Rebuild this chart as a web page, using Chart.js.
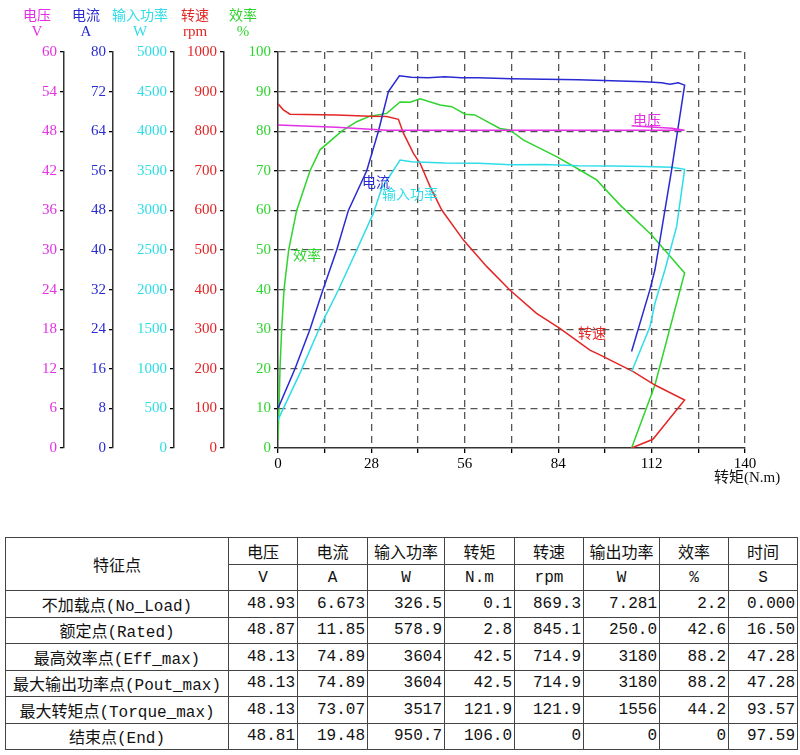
<!DOCTYPE html>
<html>
<head>
<meta charset="utf-8">
<script src="https://cdn.jsdelivr.net/npm/chart.js@4.4.1/dist/chart.umd.min.js"></script>
<style>
  body { margin: 0; background: #fff; }
  #wrap { position: relative; width: 800px; height: 755px; }
  #chart { position: absolute; left: 0; top: 0; }
  #tbl {
    position: absolute; left: 5px; top: 537px;
    border-collapse: collapse; table-layout: fixed;
    font: 16px "Liberation Mono", "Noto Sans CJK SC", monospace;
    color: #111;
  }
  #tbl td { border: 1.5px solid #444; padding: 0 2px; white-space: nowrap; overflow: hidden; }
  #tbl .c { text-align: center; }
  #tbl .r { text-align: right; }
</style>
</head>
<body>
<div id="wrap">
  <canvas id="chart" width="800" height="500"></canvas>
  <table id="tbl"></table>
</div>
<script>
// curves (x = torque N.m)
const torqueVoltage = [0, 7.6, 17.6, 27.6, 32.6, 40, 60, 80, 100, 121.9, 118, 106];
const voltage = [48.93, 48.8, 48.6, 48.3, 48.15, 48.13, 48.13, 48.13, 48.13, 48.13, 48.43, 48.81];

const torqueCurrent = [0, 5.1, 9.6, 13.5, 17.6, 21.1, 26.6, 30.1, 33.1, 36.4, 40, 45, 50, 55, 60, 70, 80, 90, 100, 110, 115, 117.5, 120, 121.9, 118, 114.5, 113, 111.5, 106];
const current = [8, 16, 24, 32, 40, 48, 56, 64, 72, 75.2, 74.9, 74.8, 75.0, 74.8, 74.8, 74.6, 74.5, 74.4, 74.2, 74.0, 73.8, 73.5, 73.8, 73.3, 56.2, 42, 36, 32, 19.48];

const torquePower = [0, 6.6, 12.6, 18.1, 23.6, 28.6, 31.1, 36.6, 40, 50, 60, 70, 80, 90, 100, 110, 118, 121.9, 119.5, 116, 113, 111.5, 106];
const inputPower = [355, 945, 1530, 1995, 2500, 2965, 3280, 3636, 3615, 3600, 3595, 3575, 3580, 3565, 3560, 3555, 3545, 3518, 2795, 2250, 1827, 1532, 963];

const torqueSpeed = [0, 1.6, 3.6, 17.6, 27.6, 32.6, 36.1, 37.6, 40.6, 42.6, 45.6, 49.1, 55.6, 62.6, 69.5, 77.5, 84.5, 93.5, 96.5, 106.5, 113, 121.9, 112.4, 106];
const speed = [869, 854, 843, 841, 838, 837, 830, 795, 744, 719, 660, 601, 525, 458, 399, 340, 302, 247, 235, 193, 159, 121, 22, 0];

const torqueEff = [0, 0.3, 0.6, 1.1, 1.8, 3.2, 5.6, 9.6, 12.6, 19.1, 23.6, 27.6, 32.6, 36.6, 39.6, 42.6, 48.6, 52.1, 56.1, 59, 66.5, 69.5, 73.5, 83.5, 90.5, 95.5, 102.5, 112, 121.9, 113, 106];
const efficiency = [2.2, 10, 20, 30, 40, 50, 60, 70, 75.3, 80, 82.4, 83.8, 84.5, 87.4, 87.3, 88.2, 86.6, 86.2, 84.3, 84.1, 80.7, 80.3, 77.8, 73.6, 70.2, 67.7, 61.4, 53.8, 44.2, 15.9, 0];

// axes
const axisIds = ['yV', 'yA', 'yW', 'yR', 'yE'];
const axisNames = ['电压', '电流', '输入功率', '转速', '效率'];
const axisUnits = ['V', 'A', 'W', 'rpm', '%'];
const axisMax = [60, 80, 5000, 1000, 100];
const axisStep = [6, 8, 500, 100, 10];
const axisColors = ['#e530e5', '#2a2ad2', '#2fdde8', '#e32626', '#2fd42f'];
const axisWidths = [64, 49, 61, 50, 54];
const titleX = [37, 86, 140, 195, 243];

// table
const pointNames = ['不加载点(No_Load)', '额定点(Rated)', '最高效率点(Eff_max)', '最大输出功率点(Pout_max)', '最大转矩点(Torque_max)', '结束点(End)'];
const colNames = ['电压', '电流', '输入功率', '转矩', '转速', '输出功率', '效率', '时间'];
const colUnits = ['V', 'A', 'W', 'N.m', 'rpm', 'W', '%', 'S'];
const colVoltage = ['48.93', '48.87', '48.13', '48.13', '48.13', '48.81'];
const colCurrent = ['6.673', '11.85', '74.89', '74.89', '73.07', '19.48'];
const colInput = ['326.5', '578.9', '3604', '3604', '3517', '950.7'];
const colTorque = ['0.1', '2.8', '42.5', '42.5', '121.9', '106.0'];
const colSpeed = ['869.3', '845.1', '714.9', '714.9', '121.9', '0'];
const colOutput = ['7.281', '250.0', '3180', '3180', '1556', '0'];
const colEff = ['2.2', '42.6', '88.2', '88.2', '44.2', '0'];
const colTime = ['0.000', '16.50', '47.28', '47.28', '93.57', '97.59'];
const colWidths = [223, 69, 70, 77, 70, 69, 76, 69, 69];

function pts(xs, ys) {
    return xs.map((x, i) => ({ x: x, y: ys[i] }));
}

const seriesData = [
    pts(torqueVoltage, voltage),
    pts(torqueCurrent, current),
    pts(torquePower, inputPower),
    pts(torqueSpeed, speed),
    pts(torqueEff, efficiency)
];

// labels written next to curves
const curveLabels = [
    { text: '电压', axis: 'yV', t: 110.6, v: 49.7, color: axisColors[0] },
    { text: '电流', axis: 'yA', t: 29.4, v: 53.7, color: axisColors[1] },
    { text: '输入功率', axis: 'yW', t: 39.6, v: 3207, color: axisColors[2] },
    { text: '转速', axis: 'yR', t: 94.1, v: 290, color: axisColors[3] },
    { text: '效率', axis: 'yE', t: 8.7, v: 48.7, color: axisColors[4] }
];

const serif = '"Liberation Serif", "Times New Roman", serif';
const gridColor = ctx => (ctx.tick && ctx.tick.value === 0) ? 'rgba(0,0,0,0)' : '#555';

const scales = {
    x: {
        type: 'linear', min: 0, max: 140,
        afterFit: s => { s.height = 30; },
        ticks: {
            stepSize: 14, autoSkip: false, maxRotation: 0, padding: 2,
            color: '#000', font: { family: serif, size: 15 },
            callback: v => (v % 28 === 0 ? String(v) : '')
        },
        grid: { color: gridColor, lineWidth: 1.3, tickLength: 5, tickColor: '#000', tickWidth: 1.3 },
        border: { display: true, color: '#333', width: 1.5, dash: [7, 5] }
    }
};
axisIds.forEach((id, i) => {
    const inner = i === axisIds.length - 1;
    scales[id] = {
        type: 'linear', position: 'left', weight: axisIds.length - i,
        min: 0, max: axisMax[i],
        afterFit: s => { s.width = axisWidths[i]; },
        ticks: {
            stepSize: axisStep[i], autoSkip: false, padding: 3,
            color: axisColors[i], font: { family: serif, size: 15 },
            callback: v => String(v)
        },
        grid: {
            display: true, drawOnChartArea: inner, color: inner ? gridColor : '#000',
            lineWidth: 1.3, tickLength: 4, tickColor: '#000', tickWidth: 1.3
        },
        border: { display: true, color: '#333', width: 1.5, dash: inner ? [7, 5] : [] }
    };
});

const textPlugin = {
    id: 'texts',
    afterDraw(chart) {
        const ctx = chart.ctx;
        ctx.save();
        ctx.textAlign = 'center';
        ctx.textBaseline = 'middle';
        axisIds.forEach((id, i) => {
            ctx.fillStyle = axisColors[i];
            ctx.font = '14px "Noto Sans CJK SC"';
            ctx.fillText(axisNames[i], titleX[i], 15);
            ctx.font = '15px ' + serif;
            ctx.fillText(axisUnits[i], titleX[i], 32);
        });
        ctx.font = '14px "Noto Sans CJK SC"';
        curveLabels.forEach(l => {
            ctx.fillStyle = l.color;
            ctx.fillText(l.text, chart.scales.x.getPixelForValue(l.t), chart.scales[l.axis].getPixelForValue(l.v));
        });
        ctx.fillStyle = '#111';
        ctx.font = '15px "Liberation Serif", "Noto Sans CJK SC"';
        ctx.fillText('转矩(N.m)', 747, 478);
        ctx.restore();
    }
};

new Chart(document.getElementById('chart').getContext('2d'), {
    type: 'line',
    data: {
        datasets: seriesData.map((d, i) => ({
            label: axisNames[i],
            data: d,
            yAxisID: axisIds[i],
            borderColor: axisColors[i],
            borderWidth: 1.5,
            pointRadius: 0,
            tension: 0,
            fill: false
        }))
    },
    options: {
        responsive: false,
        animation: false,
        devicePixelRatio: 1,
        layout: { padding: { left: 0, top: 52, right: 55, bottom: 22 } },
        plugins: { legend: { display: false }, tooltip: { enabled: false } },
        scales: scales
    },
    plugins: [textPlugin]
});

// table below the chart
const tbl = document.getElementById('tbl');
let html = '<colgroup>' + colWidths.map(w => '<col style="width:' + w + 'px">').join('') + '</colgroup>';
html += '<tr style="height:27px"><td class="c" rowspan="2">特征点</td>' + colNames.map(n => '<td class="c">' + n + '</td>').join('') + '</tr>';
html += '<tr style="height:26px">' + colUnits.map(u => '<td class="c">' + u + '</td>').join('') + '</tr>';
const cols = [colVoltage, colCurrent, colInput, colTorque, colSpeed, colOutput, colEff, colTime];
pointNames.forEach((name, r) => {
    html += '<tr style="height:26.5px"><td class="c">' + name + '</td>' + cols.map(c => '<td class="r">' + c[r] + '</td>').join('') + '</tr>';
});
tbl.innerHTML = html;
</script>
</body>
</html>
